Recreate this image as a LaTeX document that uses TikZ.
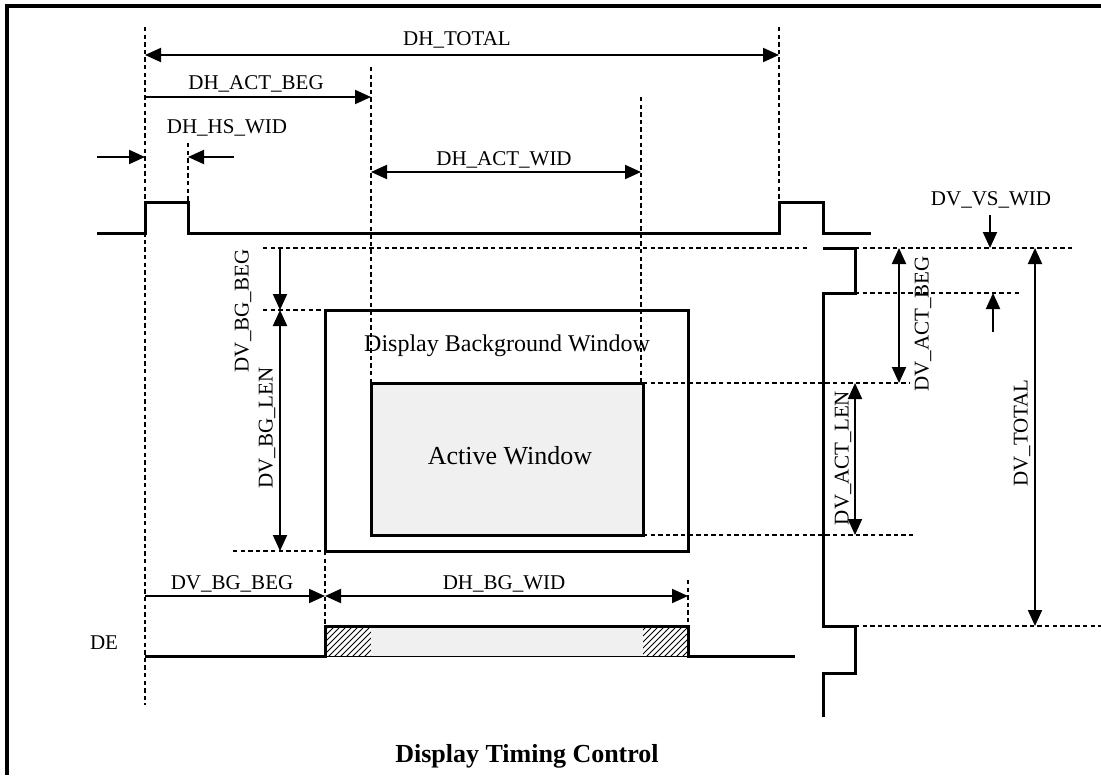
\documentclass[tikz,border=0pt]{standalone}
\usepackage{fontspec}
\setmainfont{Liberation Serif}
\usetikzlibrary{arrows.meta,patterns}

\begin{document}
\begin{tikzpicture}[x=0.5pt, y=-0.5pt, line join=miter,
  sig/.style={line width=1.5pt},
  dim/.style={line width=1pt},
  guide/.style={line width=0.75pt, dash pattern=on 2.2pt off 1.6pt},
  tip/.style={-{Triangle[length=8pt,width=7pt]}},
  tips/.style={{Triangle[length=8pt,width=7pt]}-{Triangle[length=8pt,width=7pt]}},
  lbl/.style={font=\fontsize{10.5}{12}\selectfont, inner sep=0pt},
  vlbl/.style={lbl, rotate=90}]

\useasboundingbox (0,0) rectangle (1101,775);

% Cornice
\draw[line width=1.6pt] (7,775) -- (7,6) -- (1101,6);

% Punti di riferimento
\coordinate (hs0) at (145,233);
\coordinate (hs1) at (188,233);
\coordinate (actL) at (371,383);
\coordinate (actR) at (643,535);
\coordinate (bgL) at (325,310);
\coordinate (bgR) at (688,551);
\coordinate (hs2) at (779,233);
\coordinate (vsT) at (855,248);
\coordinate (vsB) at (855,293);
\coordinate (deH) at (325,626);
\coordinate (deL) at (688,656);

% Linee guida verticali
\draw[guide] (145,27) -- (145,705);
\draw[guide] (188,143) -- (188,203);
\draw[guide] (371,67) -- (actL);
\draw[guide] (641,97) -- (641,383);
\draw[guide] (779,27) -- (779,203);
\draw[guide] (325,551) -- (deH);
\draw[guide] (688,580) -- (688,626);

% Linee guida orizzontali
\draw[guide] (263,248) -- (808,248);
\draw[guide] (vsT) -- (1073,248);
\draw[guide] (vsB) -- (1022,293);
\draw[guide] (263,310) -- (bgL);
\draw[guide] (643,383) -- (910,383);
\draw[guide] (643,535) -- (915,535);
\draw[guide] (233,551) -- (325,551);
\draw[guide] (855,626) -- (1101,626);

% Sincronismo orizzontale
\draw[sig] (97,233) -- (hs0) -- (145,203) -- (188,203) -- (hs1) -- (hs2)
  -- (779,203) -- (823,203) -- (823,233) -- (871,233);

% Sincronismo verticale
\draw[sig] (823,248) -- (vsT) -- (vsB) -- (823,293) -- (823,626) -- (855,626)
  -- (855,673) -- (823,673) -- (823,717);

% Finestre
\draw[sig] (bgL) rectangle (bgR);
\draw[sig, fill=black!6] (actL) rectangle (actR);
\node[font=\fontsize{12}{14}\selectfont] (bgtxt) at (507,346) {Display Background Window};
\node[font=\fontsize{13}{15}\selectfont] (acttxt) at (510,456) {Active Window};

% Segnale DE
\fill[pattern=north east lines] (deH) rectangle (371,656);
\fill[black!6] (371,626) rectangle (643,656);
\fill[pattern=north east lines] (643,626) rectangle (deL);
\draw[line width=0.5pt] (deH |- deL) -- (deL);
\draw[sig] (145,656) -- (325,656) -- (deH) -- (688,626) -- (deL) -- (795,656);
\node[lbl] (de) at (104,643) {DE};

% Quote orizzontali
\draw[dim, tips] (145,55) -- (779,55);
\node[lbl] (dhtot) at (457,40) {DH\_TOTAL};
\draw[dim, tip] (145,97) -- (371,97);
\node[lbl] (dhab) at (256,84) {DH\_ACT\_BEG};
\draw[dim, tip] (97,157) -- (145,157);
\draw[dim, tip] (234,157) -- (188,157);
\node[lbl] (dhhs) at (227,128) {DH\_HS\_WID};
\draw[dim, tips] (371,172) -- (641,172);
\node[lbl] (dhaw) at (504,160) {DH\_ACT\_WID};
\draw[dim, tip] (145,596) -- (325,596);
\node[lbl] (dvbb2) at (232,584) {DV\_BG\_BEG};
\draw[dim, tips] (325,596) -- (688,596);
\node[lbl] (dhbw) at (504,584) {DH\_BG\_WID};

% Quote verticali
\draw[dim, tip] (280,248) -- (280,310);
\node[vlbl] (dvbb) at (243,311) {DV\_BG\_BEG};
\draw[dim, tips] (280,310) -- (280,551);
\node[vlbl] (dvbl) at (267,428) {DV\_BG\_LEN};
\draw[dim, tips] (899,248) -- (899,383);
\node[vlbl] (dvab) at (923,324) {DV\_ACT\_BEG};
\draw[dim, tips] (855,383) -- (855,535);
\node[vlbl] (dval) at (843,458) {DV\_ACT\_LEN};
\draw[dim, tips] (1035,248) -- (1035,626);
\node[vlbl] (dvtot) at (1022,433) {DV\_TOTAL};
\draw[dim, tip] (990,215) -- (990,248);
\draw[dim, tip] (993,332) -- (993,293);
\node[lbl] (dvvs) at (991,200) {DV\_VS\_WID};

% Titolo
\node[font=\bfseries\fontsize{13}{15}\selectfont] (title) at (527,756) {Display Timing Control};

\end{tikzpicture}
\end{document}
